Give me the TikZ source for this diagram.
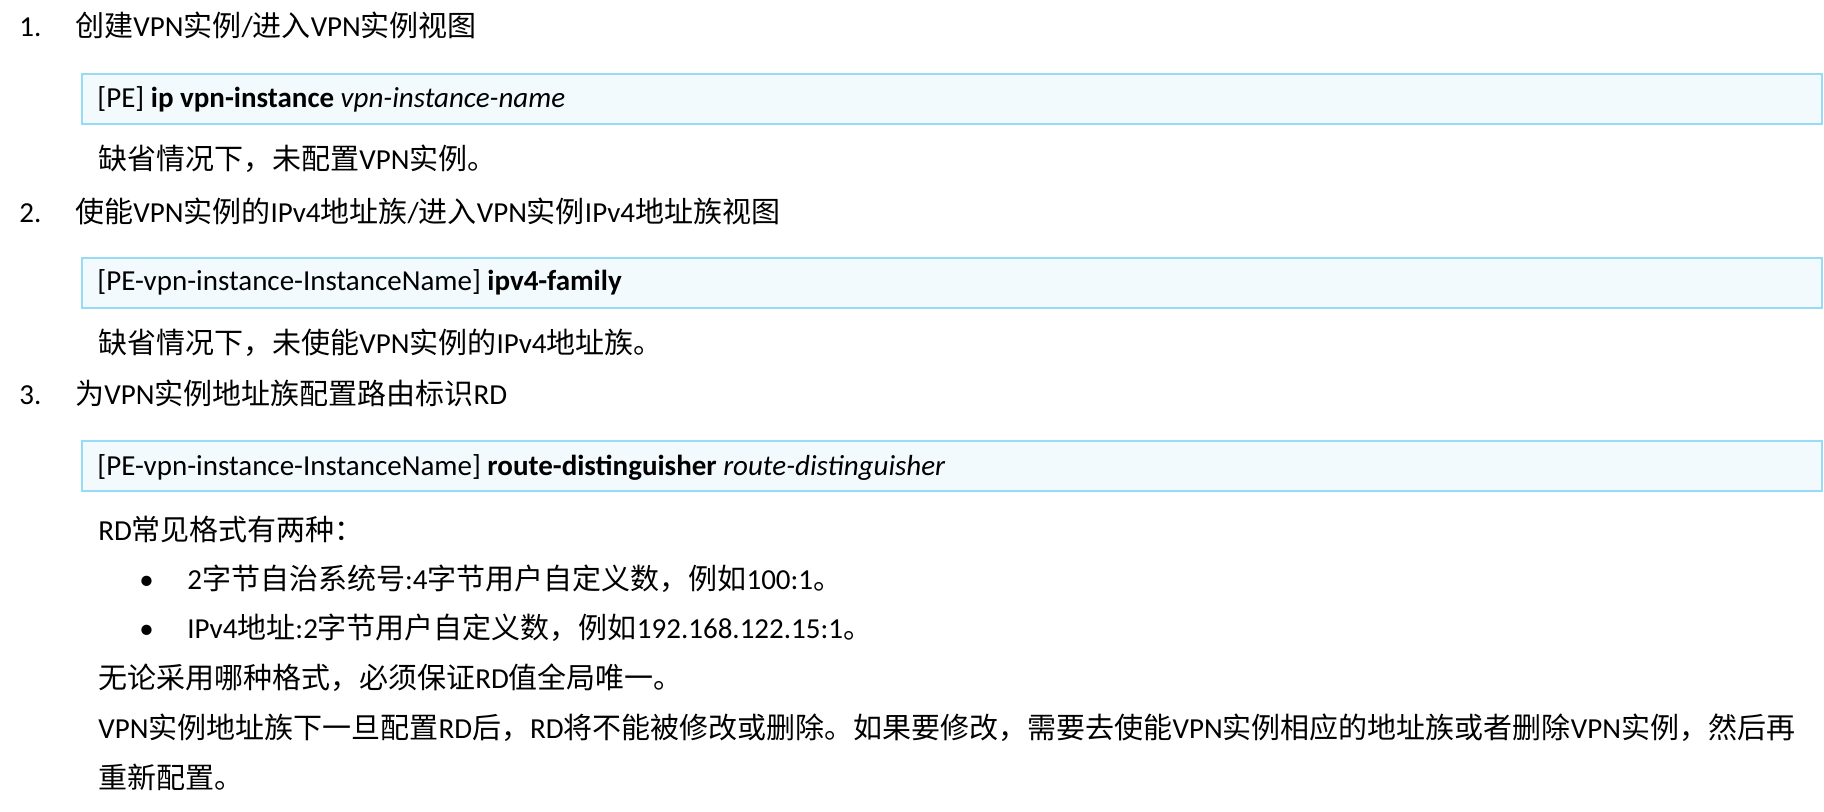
\documentclass[tikz,border=0pt]{standalone}
\usepackage{fontspec}
\setmainfont{Carlito}
\newfontfamily\cjk{Noto Sans CJK SC}
\newcommand\zh[1]{{\cjk #1}}
\definecolor{cmdline}{RGB}{150,220,246}
\definecolor{cmdfill}{RGB}{242,250,254}

\begin{document}
\begin{tikzpicture}[x=0.5pt,y=-0.5pt,
    txt/.style={anchor=base west,inner sep=0pt,font=\fontsize{14.5}{17}\selectfont},
    cmdbox/.style={draw=cmdline,fill=cmdfill,line width=1pt}]
    \useasboundingbox[fill=white] (0,0) rectangle (1824,812);

    \draw[cmdbox] (82,74) rectangle (1822,124);
    \draw[cmdbox] (82,258) rectangle (1822,308);
    \draw[cmdbox] (82,441) rectangle (1822,491);

    \node[txt] (num1) at (19,37) {1.};
    \node[txt] (step1) at (75,37) {\zh{创建}VPN\zh{实例}/\zh{进入}VPN\zh{实例视图}};
    \node[txt] (cmd1) at (97,108) {[PE] \textbf{ip vpn-instance} \textit{vpn-instance-name}};
    \node[txt] (note1) at (98,170) {\zh{缺省情况下，未配置}VPN\zh{实例。}};

    \node[txt] (num2) at (19,223) {2.};
    \node[txt] (step2) at (75,223) {\zh{使能}VPN\zh{实例的}IPv4\zh{地址族}/\zh{进入}VPN\zh{实例}IPv4\zh{地址族视图}};
    \node[txt] (cmd2) at (97,291) {[PE-vpn-instance-InstanceName] \textbf{ipv4-family}};
    \node[txt] (note2) at (98,354) {\zh{缺省情况下，未使能}VPN\zh{实例的}IPv4\zh{地址族。}};

    \node[txt] (num3) at (19,404) {3.};
    \node[txt] (step3) at (75,404) {\zh{为}VPN\zh{实例地址族配置路由标识}RD};
    \node[txt] (cmd3) at (97,475) {[PE-vpn-instance-InstanceName] \textbf{route-distinguisher} \textit{route-distinguisher}};
    \node[txt] (note3) at (98,540) {RD\zh{常见格式有两种：}};
    %
    \node[txt] (dot1) at (139,589) {•};
    \node[txt] (fmt1) at (187,589) {2\zh{字节自治系统号}:4\zh{字节用户自定义数，例如}100:1\zh{。}};
    \node[txt] (dot2) at (139,638) {•};
    \node[txt] (fmt2) at (187,638) {IPv4\zh{地址}:2\zh{字节用户自定义数，例如}192.168.122.15:1\zh{。}};
    %
    \node[txt] (note4) at (98,688) {\zh{无论采用哪种格式，必须保证}RD\zh{值全局唯一。}};
    \node[txt] (note5) at (98,738) {VPN\zh{实例地址族下一旦配置}RD\zh{后，}RD\zh{将不能被修改或删除。如果要修改，需要去使能}VPN\zh{实例相应的地址族或者删除}VPN\zh{实例，然后再}};
    \node[txt] (note6) at (98,788) {\zh{重新配置。}};
\end{tikzpicture}
\end{document}
